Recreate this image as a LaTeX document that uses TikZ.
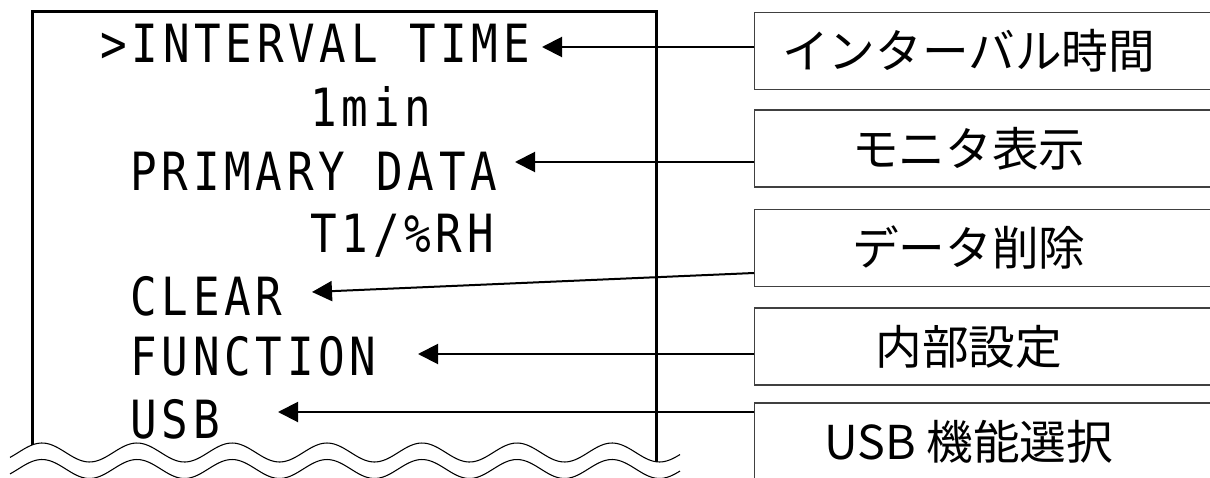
\documentclass[tikz,border=0pt]{standalone}
\usepackage{fontspec}
\newfontfamily\lcdfont[FakeStretch=0.84,LetterSpace=9]{DejaVu Sans Mono}
\newfontfamily\jpfont{Noto Sans CJK JP}
\usetikzlibrary{arrows.meta}
\definecolor{boxgray}{RGB}{64,64,64}
\tikzset{
	lcdtext/.style={anchor=base west, inner sep=0pt, font=\lcdfont\fontsize{39.5}{42}\selectfont},
	menubox/.style={draw=boxgray, line width=1pt, anchor=west, minimum width=360pt, minimum height=57.75pt, inner sep=0pt, font=\jpfont\fontsize{35}{38}\selectfont},
	pointer/.style={line width=1.5pt, -{Triangle[length=15pt,width=15pt]}},
	lcdframe/.style={line width=2.25pt},
	wave/.style={line width=0.8pt}
}

\begin{document}
\begin{tikzpicture}[x=0.75pt,y=0.75pt,yscale=-1,xscale=1]
	\useasboundingbox (0,0) rectangle (1210,478);
	
	%Shape: Display frame
	\draw [lcdframe] (32,445) -- (32,12) -- (656,12) -- (656,462) ;
	%Shape: Wave (break line)
	\foreach \dy in {0,16.5}
		\draw [wave] plot [domain=10:680, samples=150, smooth] (\x, {452.5+\dy-9.5*cos(3.78947*(\x-42))}) ;
	
	% Text Node
	\node [lcdtext] (interval) at (100,63) {>INTERVAL TIME};
	% Text Node
	\node [lcdtext] (intval) at (310,127) {1min};
	% Text Node
	\node [lcdtext] (primary) at (130,190) {PRIMARY DATA};
	% Text Node
	\node [lcdtext] (primval) at (310,252) {T1/\%RH};
	% Text Node
	\node [lcdtext] (clear) at (130,315) {CLEAR};
	% Text Node
	\node [lcdtext] (function) at (130,375) {FUNCTION};
	% Text Node
	\node [lcdtext] (usb) at (130,438) {USB};
	
	%Shape: Rectangle
	\node [menubox] (bint) at (754,51) {インターバル時間\hspace*{39pt}};
	%Shape: Rectangle
	\node [menubox] (bmon) at (754,148.5) {モニタ表示\hspace*{39pt}};
	%Shape: Rectangle
	\node [menubox] (bclr) at (754,248) {データ削除\hspace*{39pt}};
	%Shape: Rectangle
	\node [menubox] (bfun) at (754,346.5) {内部設定\hspace*{39pt}};
	%Shape: Rectangle
	\node [menubox] (busb) at (754,441.5) {USB 機能選択\hspace*{39pt}};
	
	% arrow tips
	\coordinate (tint) at (542,47);
	\coordinate (tmon) at (515,162);
	\coordinate (tclr) at (312,292);
	\coordinate (tfun) at (418,354);
	\coordinate (tusb) at (278,412);
	
	%Straight Lines
	\draw [pointer] (bint.west |- tint) -- (tint) ;
	%Straight Lines
	\draw [pointer] (bmon.west |- tmon) -- (tmon) ;
	%Straight Lines
	\draw [pointer] (bclr.west |- 0,273) -- (tclr) ;
	%Straight Lines
	\draw [pointer] (bfun.west |- tfun) -- (tfun) ;
	%Straight Lines
	\draw [pointer] (busb.west |- tusb) -- (tusb) ;
	
\end{tikzpicture}
\end{document}
